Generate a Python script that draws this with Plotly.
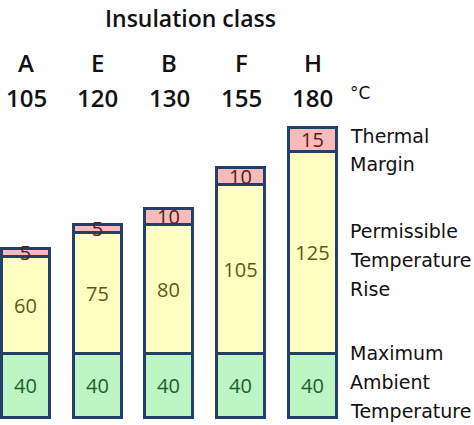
import plotly.graph_objects as go

classes = ["A", "E", "B", "F", "H"]
max_temps = [105, 120, 130, 155, 180]
ambient = [40, 40, 40, 40, 40]
temp_rise = [60, 75, 80, 105, 125]
margin = [5, 5, 10, 10, 15]

x_pos = list(range(len(classes)))
FONT_H = "Open Sans"
FONT_L = "DejaVu Sans"
edge = dict(color="#24406a", width=3)

fig = go.Figure()
segments = [
    ("Maximum Ambient Temperature", ambient, "#bdf5c4", "#1f5f2a"),
    ("Permissible Temperature Rise", temp_rise, "#ffffc2", "#5a5a10"),
    ("Thermal Margin", margin, "#f9baba", "#5c1a1a"),
]
for name, vals, fill, tcol in segments:
    fig.add_trace(go.Bar(
        x=x_pos, y=vals, name=name, width=0.67,
        marker=dict(color=fill, line=edge),
        text=[str(v) for v in vals], textposition="inside", textangle=0,
        insidetextanchor="middle", constraintext="none",
        textfont=dict(family=FONT_H, size=20, color=tcol),
        hoverinfo="skip", showlegend=False,
    ))

H = 425.0
def py(pix):
    return (H - pix) / H

hdr = dict(family=FONT_H, size=24, color="#111", weight=600)
ann = []
ann.append(dict(text="Insulation class", x=190 / 474, y=py(18), xref="paper", yref="paper",
                xanchor="center", yanchor="middle", showarrow=False,
                font=dict(family=FONT_H, size=23, color="#111", weight=600)))
for xi, c, t in zip(x_pos, classes, max_temps):
    ann.append(dict(text=c, x=xi, y=py(62), xref="x", yref="paper", xanchor="center",
                    yanchor="middle", showarrow=False, font=hdr))
    ann.append(dict(text=str(t), x=xi, y=py(97), xref="x", yref="paper", xanchor="center",
                    yanchor="middle", showarrow=False, font=hdr))
ann.append(dict(text="°C", x=348 / 474, y=py(93), xref="paper", yref="paper", xanchor="left",
                yanchor="middle", showarrow=False, font=dict(family=FONT_L, size=17, color="#111")))

right_lines = [("Thermal", 136), ("Margin", 164), ("Permissible", 231), ("Temperature", 260),
               ("Rise", 289), ("Maximum", 353), ("Ambient", 382), ("Temperature", 411)]
for txt, yp in right_lines:
    ann.append(dict(text=txt, x=348 / 474, y=py(yp), xref="paper", yref="paper", xanchor="left",
                    yanchor="middle", showarrow=False,
                    font=dict(family=FONT_L, size=19, color="#111")))

fig.update_layout(
    width=474, height=425, margin=dict(l=0, r=0, t=0, b=0),
    barmode="stack", plot_bgcolor="white", paper_bgcolor="white",
    xaxis=dict(range=[-26 / 71.7, (474 - 26) / 71.7], visible=False),
    yaxis=dict(range=[-7 / 1.61, (H - 7) / 1.61], visible=False),
    annotations=ann, bargap=0,
)
fig.write_html("out.html", config={"displayModeBar": False},
               post_script="document.body.style.margin='0';")
